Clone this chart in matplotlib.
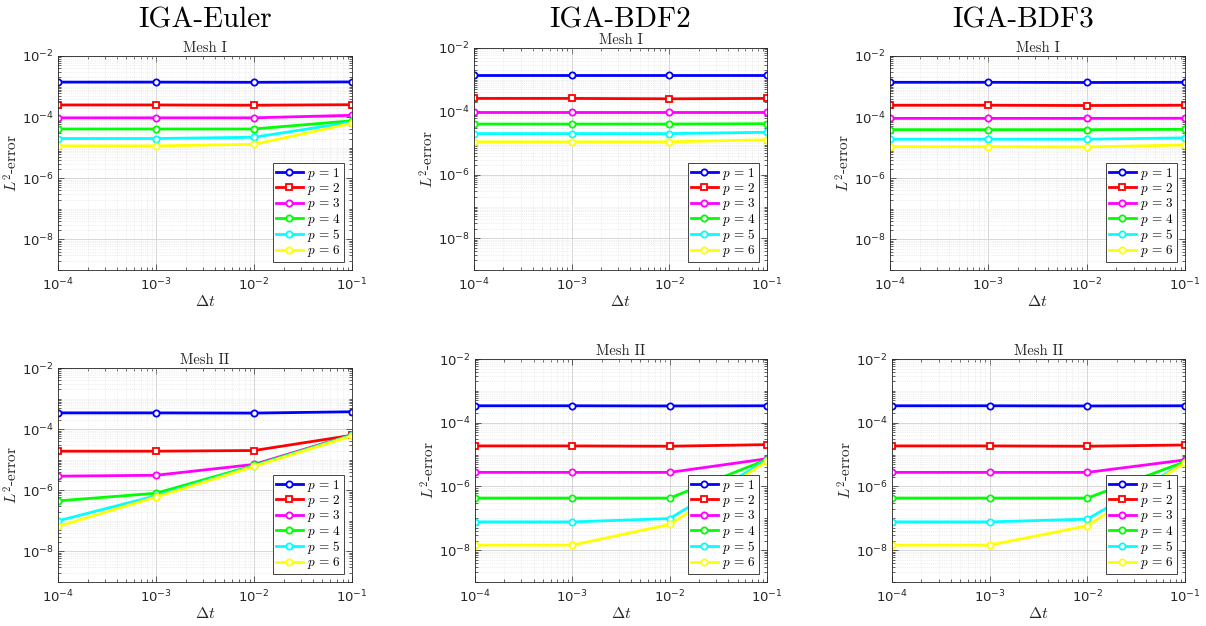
import numpy as np
import matplotlib
matplotlib.use("Agg")
import matplotlib.pyplot as plt
from matplotlib.ticker import LogLocator, LogFormatterMathtext, NullFormatter

plt.rcParams['mathtext.fontset'] = 'cm'
plt.rcParams['font.family'] = ['DejaVu Sans']
plt.rcParams['axes.unicode_minus'] = True

dt = [1e-4, 1e-3, 1e-2, 1e-1]
labels = [r'$p\,=\,1$', r'$p\,=\,2$', r'$p\,=\,3$', r'$p\,=\,4$', r'$p\,=\,5$', r'$p\,=\,6$']
colors = ['#0000ff', '#ff0000', '#ff00ff', '#00ff00', '#00ffff', '#ffff00']
markers = ['o', 's', 'o', 'o', 'o', 'o']

method_titles = ['IGA-Euler', 'IGA-BDF2', 'IGA-BDF3']
mesh_titles = ['Mesh I', 'Mesh II']

# Euler, Mesh I
euler_m1 = [
    [1.4e-3, 1.4e-3, 1.38e-3, 1.42e-3],
    [2.5e-4, 2.5e-4, 2.45e-4, 2.55e-4],
    [9.5e-5, 9.5e-5, 9.5e-5, 1.15e-4],
    [4.1e-5, 4.1e-5, 4.1e-5, 7.6e-5],
    [2.0e-5, 2.0e-5, 2.2e-5, 6.9e-5],
    [1.15e-5, 1.15e-5, 1.29e-5, 6.3e-5],
]
# BDF2, Mesh I
bdf2_m1 = [
    [1.4e-3, 1.4e-3, 1.4e-3, 1.4e-3],
    [2.57e-4, 2.57e-4, 2.5e-4, 2.57e-4],
    [9.3e-5, 9.3e-5, 9.3e-5, 9.3e-5],
    [4.0e-5, 4.0e-5, 4.0e-5, 4.1e-5],
    [2.0e-5, 2.0e-5, 2.0e-5, 2.2e-5],
    [1.1e-5, 1.1e-5, 1.1e-5, 1.28e-5],
]
# BDF3, Mesh I
bdf3_m1 = [
    [1.38e-3, 1.38e-3, 1.36e-3, 1.38e-3],
    [2.45e-4, 2.45e-4, 2.4e-4, 2.45e-4],
    [9.1e-5, 9.1e-5, 9.1e-5, 9.2e-5],
    [3.9e-5, 3.9e-5, 3.9e-5, 4.0e-5],
    [1.9e-5, 1.9e-5, 1.9e-5, 2.1e-5],
    [1.08e-5, 1.08e-5, 1.06e-5, 1.23e-5],
]
# Euler, Mesh II
euler_m2 = [
    [3.4e-4, 3.4e-4, 3.35e-4, 3.7e-4],
    [1.9e-5, 1.9e-5, 2.0e-5, 6.3e-5],
    [2.9e-6, 3.1e-6, 7.0e-6, 6.5e-5],
    [4.5e-7, 8.0e-7, 6.5e-6, 6.4e-5],
    [1.0e-7, 6.6e-7, 6.2e-6, 6.2e-5],
    [6.6e-8, 6.0e-7, 6.0e-6, 6.0e-5],
]
# BDF2, Mesh II
bdf2_m2 = [
    [3.4e-4, 3.4e-4, 3.35e-4, 3.4e-4],
    [1.87e-5, 1.87e-5, 1.83e-5, 2.05e-5],
    [2.76e-6, 2.76e-6, 2.76e-6, 7.4e-6],
    [4.3e-7, 4.3e-7, 4.3e-7, 7.0e-6],
    [7.7e-8, 7.7e-8, 9.8e-8, 6.8e-6],
    [1.44e-8, 1.44e-8, 6.4e-8, 6.2e-6],
]
# BDF3, Mesh II
bdf3_m2 = [
    [3.4e-4, 3.4e-4, 3.35e-4, 3.4e-4],
    [1.87e-5, 1.87e-5, 1.83e-5, 2.0e-5],
    [2.76e-6, 2.76e-6, 2.76e-6, 6.8e-6],
    [4.3e-7, 4.3e-7, 4.3e-7, 6.0e-6],
    [7.7e-8, 7.7e-8, 9.4e-8, 5.6e-6],
    [1.44e-8, 1.44e-8, 5.8e-8, 5.6e-6],
]

data = [[euler_m1, bdf2_m1, bdf3_m1], [euler_m2, bdf2_m2, bdf3_m2]]

W, H = 1206, 626
fig = plt.figure(figsize=(W / 100, H / 100), dpi=100)

# axes boxes in pixels: (left, top, right, bottom)
boxes = [
    [(58, 56, 352, 270), (474, 48, 767, 270), (890, 56, 1185, 270)],
    [(58, 368, 352, 582), (475, 359, 767, 582), (892, 359, 1185, 582)],
]
title_x = [205, 620, 1023]

tickc = '#262626'
for r in range(2):
    for c in range(3):
        l, t, rr, b = boxes[r][c]
        ax = fig.add_axes([l / W, 1 - b / H, (rr - l) / W, (b - t) / H])
        for i, ys in enumerate(data[r][c]):
            ax.plot(dt, ys, color=colors[i], marker=markers[i], ms=4.5,
                    mfc='white', mew=1.3, lw=2, label=labels[i])
        ax.set_xscale('log')
        ax.set_yscale('log')
        ax.set_xlim(1e-4, 1e-1)
        ax.set_ylim(1e-9, 1e-2)
        ax.xaxis.set_major_locator(LogLocator(base=10, numticks=10))
        ax.xaxis.set_major_formatter(LogFormatterMathtext())
        ax.xaxis.set_minor_locator(LogLocator(base=10, subs=np.arange(2, 10), numticks=20))
        ax.xaxis.set_minor_formatter(NullFormatter())
        ax.set_yticks([1e-8, 1e-6, 1e-4, 1e-2])
        ax.yaxis.set_major_formatter(LogFormatterMathtext())
        ax.yaxis.set_minor_locator(LogLocator(base=10, subs=np.arange(1, 10), numticks=20))
        ax.yaxis.set_minor_formatter(NullFormatter())
        ax.grid(True, which='major', color='#d0d0d0', lw=0.6)
        ax.grid(True, which='minor', color='#e0e0e0', lw=0.5, ls=':')
        ax.set_axisbelow(True)
        ax.tick_params(which='both', direction='in', top=True, right=True,
                       colors=tickc, labelcolor=tickc, labelsize=9.5, width=0.5)
        ax.tick_params(axis='y', which='major', pad=3)
        ax.tick_params(axis='x', which='major', pad=5)
        ax.tick_params(which='major', length=4)
        ax.tick_params(which='minor', length=2)
        for s in ax.spines.values():
            s.set_color(tickc)
            s.set_linewidth(0.6)
        ax.set_title(mesh_titles[r], family='cmr10', fontsize=10.5, pad=3, color='#262626')
        ax.set_xlabel(r'$\Delta t$', fontsize=11.5, labelpad=0, color='#262626')
        ax.set_ylabel(r'$L^2$-error', family='cmr10', fontsize=11, labelpad=1, color='#262626')
        leg = ax.legend(loc='lower right', fontsize=9.5, frameon=True, fancybox=False,
                        edgecolor='#262626', framealpha=1, handlelength=2.1,
                        handletextpad=0.3, borderpad=0.2, labelspacing=-0.05,
                        borderaxespad=0.6)
        leg.get_frame().set_linewidth(0.6)

for c in range(3):
    fig.text(title_x[c] / W, 1 - 20 / H, method_titles[c], family='cmr10',
             fontsize=21, ha='center', va='center')

fig.savefig('out.png', dpi=100)
